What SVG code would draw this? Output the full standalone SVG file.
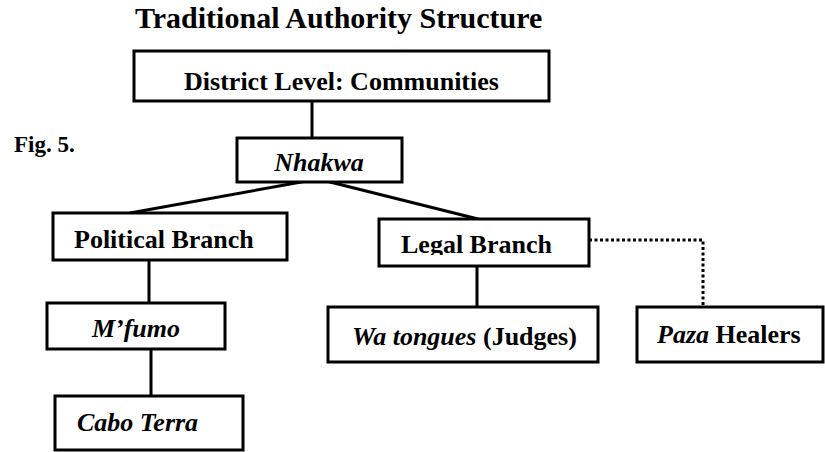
<svg xmlns="http://www.w3.org/2000/svg" width="825" height="452" viewBox="0 0 825 452">
<style>
  .box { fill: #fff; stroke: #000; stroke-width: 3; }
  .ln { stroke: #000; stroke-width: 3; fill: none; }
  .dot { stroke: #000; stroke-width: 3; fill: none; stroke-dasharray: 3 2.5; }
  text { font-family: "Liberation Serif", "Times New Roman", "DejaVu Serif", serif; font-weight: bold; fill: #000; font-size: 26px; }
  .it { font-style: italic; }
</style>
<defs>
  <clipPath id="legalClip"><rect x="381" y="221" width="206" height="34"/></clipPath>
</defs>
<rect width="825" height="452" fill="#fff"/>
<text x="135" y="28" style="font-size:30px">Traditional Authority Structure</text>
<text x="14" y="152" style="font-size:23px">Fig. 5.</text>
<g id="connectors">
  <line class="ln" x1="312" y1="101" x2="312" y2="138"/>
  <line class="ln" x1="318" y1="179" x2="130" y2="213"/>
  <line class="ln" x1="318" y1="179" x2="478" y2="219"/>
  <line class="ln" x1="149" y1="260" x2="149" y2="303"/>
  <line class="ln" x1="151" y1="349" x2="151" y2="396"/>
  <line class="ln" x1="477" y1="266" x2="477" y2="307"/>
  <polyline class="dot" points="589,240 703,240 703,307"/>
</g>
<g id="district">
  <rect class="box" x="134" y="51" width="415" height="50"/>
  <text x="341.5" y="90" text-anchor="middle">District Level: Communities</text>
</g>
<g id="nhakwa">
  <rect class="box" x="237" y="138" width="165" height="44"/>
  <text x="319" y="171" text-anchor="middle" class="it">Nhakwa</text>
</g>
<g id="political">
  <rect class="box" x="53" y="213" width="234" height="47"/>
  <text x="74" y="248">Political Branch</text>
</g>
<g id="legal">
  <rect class="box" x="379" y="219" width="210" height="47"/>
  <text x="401" y="253" clip-path="url(#legalClip)">Legal Branch</text>
</g>
<g id="mfumo">
  <rect class="box" x="47" y="303" width="178" height="46"/>
  <text x="136" y="337" text-anchor="middle" class="it">M’fumo</text>
</g>
<g id="caboterra">
  <rect class="box" x="55" y="396" width="188" height="54"/>
  <text x="77" y="431" class="it">Cabo Terra</text>
</g>
<g id="watongues">
  <rect class="box" x="328" y="307" width="270" height="55"/>
  <text x="352" y="345"><tspan class="it">Wa tongues</tspan> (Judges)</text>
</g>
<g id="paza">
  <rect class="box" x="637" y="307" width="186" height="55"/>
  <text x="657" y="343"><tspan class="it">Paza</tspan> Healers</text>
</g>
</svg>
